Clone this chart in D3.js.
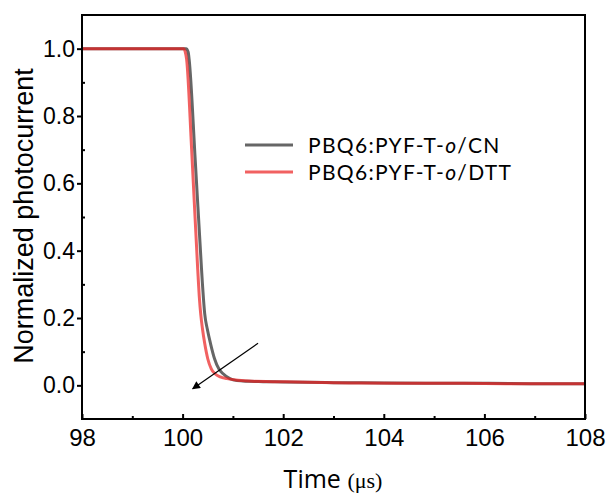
<!DOCTYPE html>
<html lang="en">
<head>
<meta charset="utf-8" />
<title>Photocurrent decay</title>
<script src="https://cdn.jsdelivr.net/npm/d3@7"></script>
<style>
  body { margin: 0; background: #fff; }
  .tick text { font-family: "Liberation Sans", Arial, sans-serif; font-size: 23px; fill: #000; }
  .xaxis .tick text { font-size: 24px; }
</style>
</head>
<body>
<div id="chart"></div>
<script>
"use strict";

// transient photocurrent
const tCN  = [98, 100.0, 100.07, 100.11, 100.13, 100.25, 100.376, 100.395, 100.415, 100.44, 100.49, 100.555, 100.635, 100.72, 100.80, 100.94, 101.08, 101.3, 101.6, 102, 103, 104, 105, 106, 107, 108]
const vCN  = [1.0, 1.0, 1.0, 0.99, 0.968, 0.672, 0.346, 0.30, 0.257, 0.212, 0.168, 0.124, 0.079, 0.049, 0.035, 0.020, 0.014, 0.012, 0.011, 0.010, 0.008, 0.007, 0.006, 0.006, 0.005, 0.005]
const tDTT = [98, 100.0, 100.02, 100.05, 100.08, 100.18, 100.30, 100.335, 100.36, 100.395, 100.44, 100.50, 100.57, 100.64, 100.75, 100.88, 101.1, 101.4, 101.8, 102.5, 103.5, 104.5, 105.5, 106.5, 107.5, 108]
const vDTT = [1.0, 1.0, 1.0, 0.992, 0.968, 0.70, 0.346, 0.257, 0.212, 0.168, 0.124, 0.079, 0.049, 0.035, 0.025, 0.020, 0.015, 0.012, 0.011, 0.009, 0.007, 0.006, 0.006, 0.005, 0.005, 0.005]
const seriesNames = ["PBQ6:PYF-T-|o|/CN", "PBQ6:PYF-T-|o|/DTT"]
const xTicks = [98, 100, 102, 104, 106, 108]
const yTicks = [0.0, 0.2, 0.4, 0.6, 0.8, 1.0]

let width = 611, height = 495
let margin = {top: 15, right: 26, bottom: 76, left: 82}

let svg = d3.select("#chart").append("svg")
    .attr("width", width).attr("height", height)

let x = d3.scaleLinear().domain([98, 108]).range([margin.left, width - margin.right])
let y = d3.scaleLinear().domain([-0.1, 1.1]).range([height - margin.bottom, margin.top])

// minor ticks first
svg.append("g")
    .attr("transform", `translate(0,${height - margin.bottom})`)
    .call(d3.axisBottom(x).tickValues([99, 101, 103, 105, 107]).tickSize(-3).tickFormat(""))
svg.append("g")
    .attr("transform", `translate(${margin.left},0)`)
    .call(d3.axisLeft(y).tickValues([0.1, 0.3, 0.5, 0.7, 0.9]).tickSize(-3).tickFormat(""))

svg.append("g").attr("class", "xaxis")
    .attr("transform", `translate(0,${height - margin.bottom})`)
    .call(d3.axisBottom(x).tickValues(xTicks).tickSize(-5).tickPadding(10).tickFormat(d3.format("d")))
svg.append("g")
    .attr("transform", `translate(${margin.left},0)`)
    .call(d3.axisLeft(y).tickValues(yTicks).tickSize(5).tickPadding(2).tickFormat(d3.format(".1f")))

svg.selectAll(".domain").remove()
svg.selectAll(".tick line").attr("stroke", "#000").attr("stroke-width", 2)

// curves
let line = d3.line().x(d => x(d[0])).y(d => y(d[1])).curve(d3.curveMonotoneX)
let plot = svg.append("g")
plot.append("path")
    .datum(d3.zip(tCN, vCN))
    .attr("fill", "none").attr("stroke", "#666").attr("stroke-width", 3)
    .attr("d", line)
plot.append("path")
    .datum(d3.zip(tDTT, vDTT))
    .attr("fill", "none").attr("stroke", "rgb(235,30,30)").attr("stroke-opacity", 0.7).attr("stroke-width", 3)
    .attr("d", line)

// frame
svg.append("rect")
    .attr("x", margin.left).attr("y", margin.top)
    .attr("width", width - margin.left - margin.right)
    .attr("height", height - margin.top - margin.bottom)
    .attr("fill", "none").attr("stroke", "#000").attr("stroke-width", 2)

// arrow
svg.append("defs").append("marker")
    .attr("id", "head").attr("viewBox", "0 0 10 10")
    .attr("refX", 9).attr("refY", 5)
    .attr("markerWidth", 10).attr("markerHeight", 8)
    .attr("markerUnits", "userSpaceOnUse")
    .attr("orient", "auto")
  .append("path").attr("d", "M0,0L10,5L0,10z").attr("fill", "#000")
svg.append("line")
    .attr("x1", x(101.5)).attr("y1", y(0.125))
    .attr("x2", x(100.2)).attr("y2", y(-0.01))
    .attr("stroke", "#000").attr("stroke-width", 1.2)
    .attr("marker-end", "url(#head)")

// legend
let legend = svg.append("g").attr("transform", "translate(245,145)")
let colors = [{c: "#666", o: 1}, {c: "rgb(235,30,30)", o: 0.7}]
seriesNames.forEach((name, i) => {
  let row = legend.append("g").attr("transform", `translate(0,${i * 27})`)
  row.append("line").attr("x1", 0).attr("x2", 48)
      .attr("stroke", colors[i].c).attr("stroke-opacity", colors[i].o).attr("stroke-width", 3)
  let txt = row.append("text").attr("x", 63).attr("dy", "0.36em")
      .style("font-family", "Lato, sans-serif").style("font-size", "21px")
      .style("letter-spacing", "1.3px")
  name.split("|").forEach((part, j) => {
    txt.append("tspan").text(part).style("font-style", j == 1 ? "italic" : "normal")
  })
})

// axis titles
svg.append("text")
    .attr("transform", `translate(33,216) rotate(-90)`)
    .attr("text-anchor", "middle")
    .style("font-family", "'Liberation Sans', Arial, sans-serif").style("font-size", "27px")
    .text("Normalized photocurrent")
let xt = svg.append("text")
    .attr("x", 333).attr("y", 488)
    .attr("text-anchor", "middle")
    .style("font-family", "'Open Sans', sans-serif").style("font-size", "25px")
xt.append("tspan").text("Time ")
xt.append("tspan").text("(μs)").style("font-family", "'Liberation Serif', serif").style("font-size", "22px")
</script>
</body>
</html>
